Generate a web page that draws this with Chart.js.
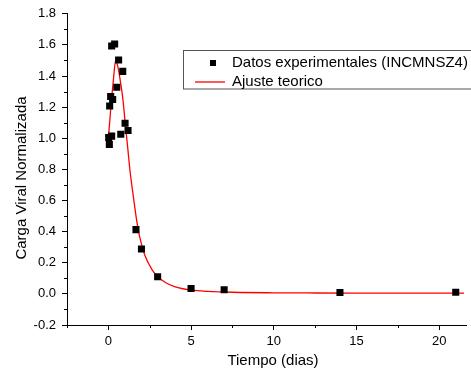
<!DOCTYPE html>
<html>
<head>
<meta charset="utf-8">
<script src="https://cdn.jsdelivr.net/npm/chart.js@4/dist/chart.umd.min.js"></script>
<style>
  html, body { margin: 0; padding: 0; background: #fff; }
  canvas { display: block; }
</style>
</head>
<body>
<canvas id="c" width="471" height="374"></canvas>
<script>
// Measured normalized viral load (days after start)
const dayMeasured  = [0.02, 0.06, 0.2, 0.08, 0.14, 0.26, 0.2, 0.38, 0.51, 0.62, 0.87, 0.75, 1.01, 1.19, 1.67, 2.0, 2.98, 5, 7, 14, 21];
const loadMeasured = [1.005, 0.96, 1.014, 1.208, 1.268, 1.249, 1.593, 1.606, 1.328, 1.503, 1.43, 1.026, 1.097, 1.05, 0.413, 0.289, 0.11, 0.035, 0.026, 0.009, 0.011];

// Fitted model curve, sampled
const dayFit  = [0, 0.1, 0.2, 0.3, 0.44, 0.55, 0.63, 0.75, 0.87, 1.0, 1.17, 1.31, 1.53, 1.7, 1.87, 2.2, 2.66, 3.0, 3.5, 4.0, 4.5, 5, 6, 7, 8, 10, 12, 15, 18, 21.5];
const loadFit = [1.0, 1.13, 1.26, 1.37, 1.5, 1.47, 1.43, 1.35, 1.26, 1.12, 0.94, 0.79, 0.61, 0.48, 0.377, 0.25, 0.153, 0.108, 0.07, 0.047, 0.033, 0.024, 0.016, 0.012, 0.009, 0.007, 0.006, 0.005, 0.005, 0.005];

const xMajorTicks = [0, 5, 10, 15, 20];
const xMinorTicks = [-2.5, 2.5, 7.5, 12.5, 17.5];
const yMajorTicks = [-0.2, 0.0, 0.2, 0.4, 0.6, 0.8, 1.0, 1.2, 1.4, 1.6, 1.8];
const yMinorTicks = [-0.1, 0.1, 0.3, 0.5, 0.7, 0.9, 1.1, 1.3, 1.5, 1.7];

const seriesNames = ['Datos experimentales (INCMNSZ4)', 'Ajuste teorico'];
const xTitle = 'Tiempo (dias)';
const yTitle = 'Carga Viral Normalizada';

const FONT = '"Liberation Sans", Arial, sans-serif';

const toPoints = (xs, ys) => xs.map((x, i) => ({ x: x, y: ys[i] }));

// Minor ticks, axis titles and the boxed legend
const decorations = {
  id: 'decorations',
  afterDraw(chart) {
    const ctx = chart.ctx;
    const xs = chart.scales.x, ys = chart.scales.y;
    const area = chart.chartArea;
    ctx.save();
    ctx.strokeStyle = '#000';
    ctx.lineWidth = 1;
    ctx.beginPath();
    xMinorTicks.forEach(v => {
      const px = Math.round(xs.getPixelForValue(v)) + 0.5;
      ctx.moveTo(px, area.bottom);
      ctx.lineTo(px, area.bottom + 3);
    });
    yMinorTicks.forEach(v => {
      const py = Math.round(ys.getPixelForValue(v)) + 0.5;
      ctx.moveTo(area.left, py);
      ctx.lineTo(area.left - 3, py);
    });
    ctx.stroke();

    // axis titles
    ctx.fillStyle = '#000';
    ctx.font = '15px ' + FONT;
    ctx.textAlign = 'center';
    ctx.textBaseline = 'middle';
    ctx.fillText(xTitle, 273, 361);
    ctx.save();
    ctx.translate(22, 178);
    ctx.rotate(-Math.PI / 2);
    ctx.fillText(yTitle, 0, 0);
    ctx.restore();

    // legend
    const ds = chart.data.datasets;
    ctx.strokeStyle = '#555';
    ctx.lineWidth = 1;
    ctx.strokeRect(183.5, 50.5, 300, 38.5);
    ctx.fillStyle = '#000';
    ctx.fillRect(210, 60, 6, 6);
    ctx.strokeStyle = ds[1].borderColor;
    ctx.lineWidth = 1.3;
    ctx.beginPath();
    ctx.moveTo(195, 82);
    ctx.lineTo(225, 82);
    ctx.stroke();
    ctx.fillStyle = '#000';
    ctx.textAlign = 'left';
    ctx.fillText(ds[0].label, 232, 63);
    ctx.fillText(ds[1].label, 232, 81.5);
    ctx.restore();
  }
};

new Chart(document.getElementById('c'), {
  type: 'scatter',
  data: {
    datasets: [
      {
        label: seriesNames[0],
        data: toPoints(dayMeasured, loadMeasured),
        pointStyle: 'rect',
        pointRadius: 5,
        pointHoverRadius: 5,
        backgroundColor: '#000',
        borderColor: '#000',
        borderWidth: 0,
        showLine: false,
        order: 0
      },
      {
        label: seriesNames[1],
        data: toPoints(dayFit, loadFit),
        showLine: true,
        borderColor: '#ff0000',
        borderWidth: 1.3,
        pointRadius: 0,
        cubicInterpolationMode: 'monotone',
        fill: false,
        order: 1
      }
    ]
  },
  options: {
    responsive: false,
    animation: false,
    events: [],
    layout: { padding: { top: 13, right: 0, left: 0, bottom: 0 } },
    plugins: { legend: { display: false }, tooltip: { enabled: false } },
    scales: {
      x: {
        type: 'linear',
        min: -2.5,
        max: 21.62,
        afterFit(scale) { scale.height = 49; },
        afterBuildTicks(scale) { scale.ticks = xMajorTicks.map(v => ({ value: v })); },
        ticks: {
          autoSkip: false, maxRotation: 0, padding: 4, color: '#000',
          font: { family: FONT, size: 13 },
          callback: v => String(v)
        },
        grid: {
          display: true, drawOnChartArea: false, drawTicks: true,
          tickLength: 5, tickColor: '#000', tickWidth: 1
        },
        border: { display: true, color: '#000', width: 1 }
      },
      y: {
        type: 'linear',
        min: -0.2,
        max: 1.8,
        afterFit(scale) { scale.width = 67; },
        afterBuildTicks(scale) { scale.ticks = yMajorTicks.map(v => ({ value: v })); },
        ticks: {
          autoSkip: false, padding: 6, color: '#000',
          font: { family: FONT, size: 13 },
          callback: v => v.toFixed(1)
        },
        grid: {
          display: true, drawOnChartArea: false, drawTicks: true,
          tickLength: 5, tickColor: '#000', tickWidth: 1
        },
        border: { display: true, color: '#000', width: 1 }
      }
    }
  },
  plugins: [decorations]
});
</script>
</body>
</html>
